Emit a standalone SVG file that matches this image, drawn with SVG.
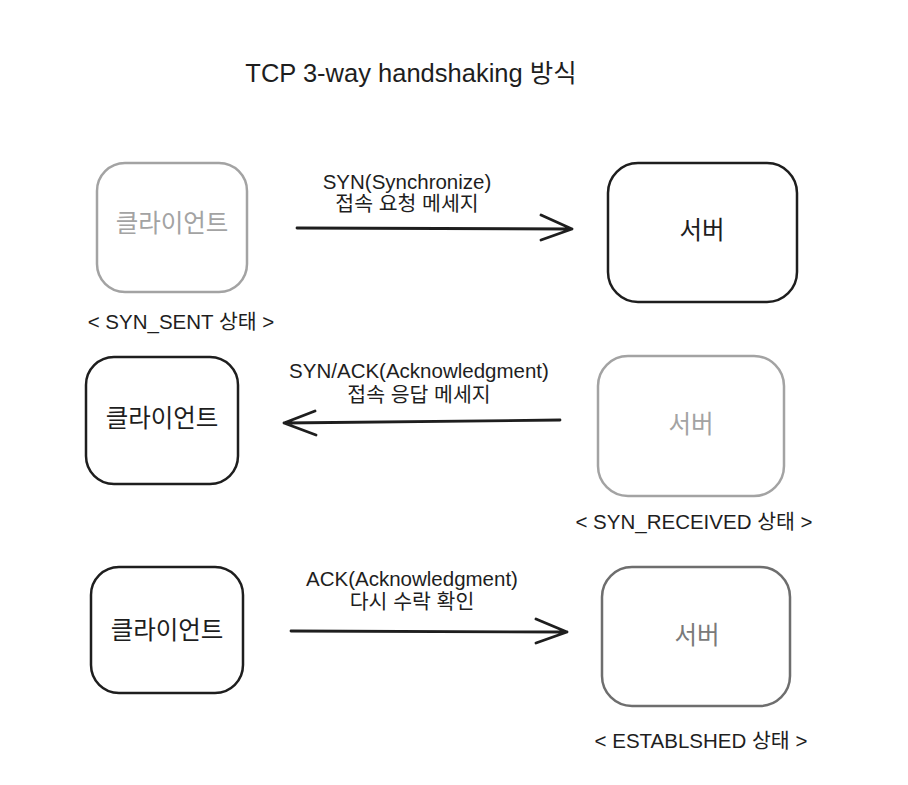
<svg xmlns="http://www.w3.org/2000/svg" width="908" height="785" viewBox="0 0 908 785">
<style>
text{font-family:"Liberation Sans","Noto Sans CJK KR",sans-serif;text-anchor:middle;fill:#1e1e1e;dominant-baseline:central}
.box{fill:#fff;stroke-width:2.5;stroke-linejoin:round}
.dark{stroke:#1e1e1e}
.gray{stroke:#a3a3a3}
.mid{stroke:#6e6e6e}
.node{font-size:24.5px}
.lbl{font-size:20.5px}
.state{font-size:20.5px}
.conn{stroke:#1e1e1e;stroke-width:2.8;fill:none;stroke-linecap:round;stroke-linejoin:round}
</style>
<rect width="908" height="785" fill="#fff"/>
<text x="411" y="73" style="font-size:25.5px">TCP 3-way handshaking 방식</text>

<g id="client1">
<rect class="box gray" x="97" y="163" width="150" height="129" rx="28"/>
<text class="node" x="172" y="223" style="fill:#a3a3a3">클라이언트</text>
<text class="state" x="181" y="321">&lt; SYN_SENT 상태 &gt;</text>
</g>
<g id="server1">
<rect class="box dark" x="608" y="163" width="189" height="139" rx="30"/>
<text class="node" x="702" y="230">서버</text>
</g>
<g id="client2">
<rect class="box dark" x="86" y="357" width="152" height="127" rx="28"/>
<text class="node" x="162" y="418">클라이언트</text>
</g>
<g id="server2">
<rect class="box gray" x="598" y="356" width="186" height="140" rx="30"/>
<text class="node" x="691" y="424" style="fill:#a3a3a3">서버</text>
<text class="state" x="694" y="521">&lt; SYN_RECEIVED 상태 &gt;</text>
</g>
<g id="client3">
<rect class="box dark" x="91" y="567" width="152" height="126" rx="28"/>
<text class="node" x="167" y="630">클라이언트</text>
</g>
<g id="server3">
<rect class="box mid" x="602" y="567" width="188" height="139" rx="30"/>
<text class="node" x="697" y="635" style="fill:#7a7a7a">서버</text>
<text class="state" x="701" y="740">&lt; ESTABLSHED 상태 &gt;</text>
</g>

<g id="connectors">
<path class="conn" d="M297 228 L572 229 M541 215 L572 229 L541 240"/>
<path class="conn" d="M560 420 L284 423 M315 411 L284 423 L316 435"/>
<path class="conn" d="M291 631 L567 632 M536 619 L567 632 L536 643"/>
</g>
<g id="labels">
<text class="lbl" x="407" y="181">SYN(Synchronize)</text>
<text class="lbl" x="407" y="203">접속 요청 메세지</text>
<text class="lbl" x="419" y="370">SYN/ACK(Acknowledgment)</text>
<text class="lbl" x="419" y="394">접속 응답 메세지</text>
<text class="lbl" x="412" y="578">ACK(Acknowledgment)</text>
<text class="lbl" x="412" y="601">다시 수락 확인</text>
</g>
</svg>
